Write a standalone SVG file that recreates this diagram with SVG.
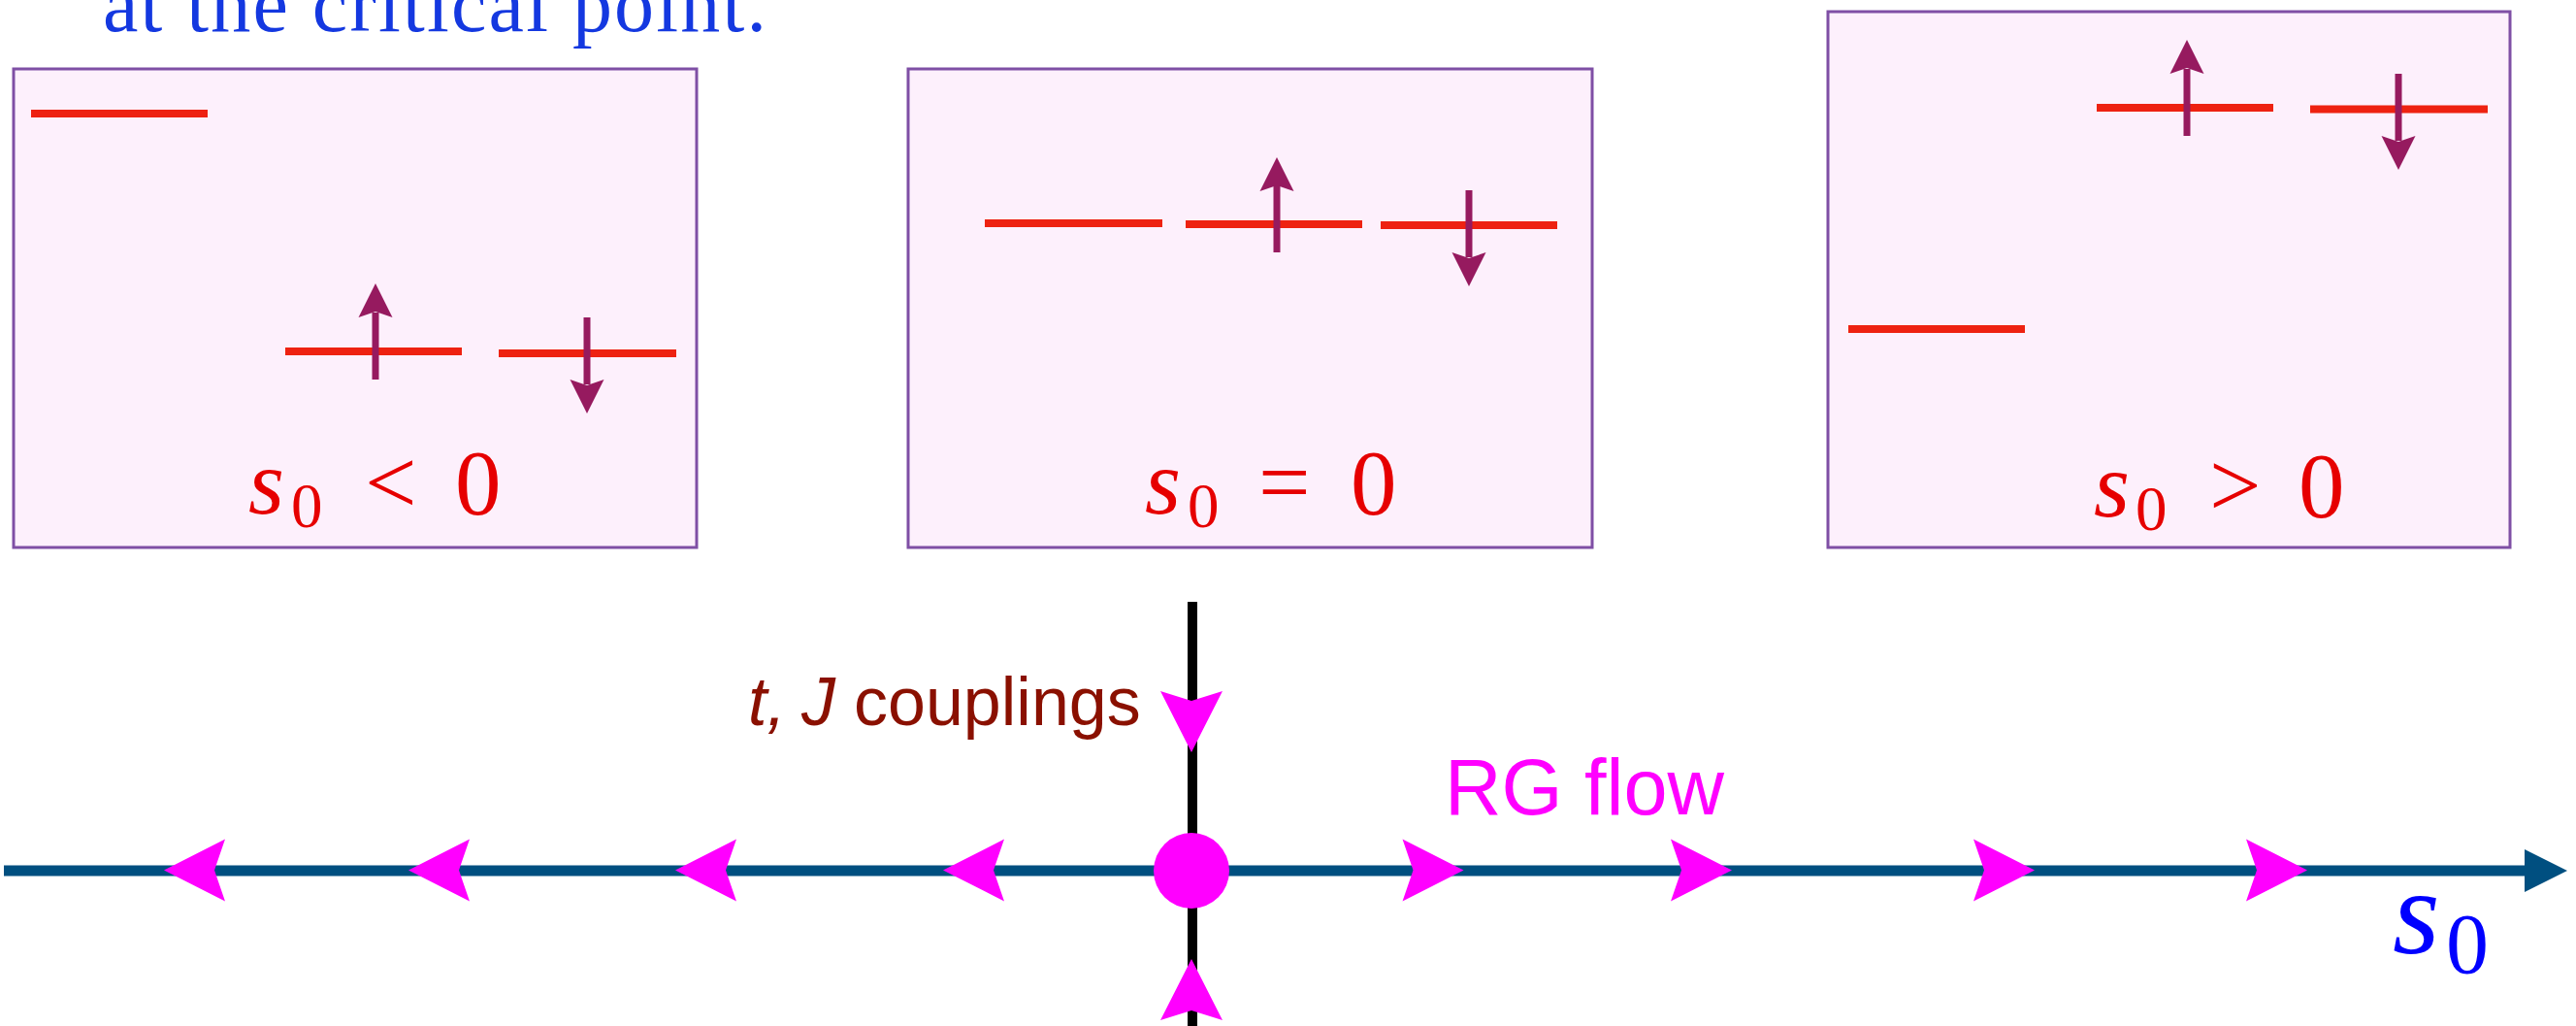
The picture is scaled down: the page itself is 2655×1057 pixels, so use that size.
<svg xmlns="http://www.w3.org/2000/svg" width="2655" height="1057" viewBox="0 0 2655 1057">
<style>
.box{fill:#fdf0fc;stroke:#7f4fa5;stroke-width:3}
.lvl{stroke:#ee2211;stroke-width:8;fill:none}
.spin{stroke:#961a5f;stroke-width:7;fill:none}
.spinhead{fill:#961a5f}
.flow{fill:#ff00ff}
.lbl{font-family:"Liberation Serif",serif;font-size:95px;fill:#e60000}
.sub{font-size:65px}
.it{font-style:italic}
</style>
<defs>
<polygon id="up" class="spinhead" points="0,0 17.5,35 0,29 -17.5,35"/>
<polygon id="down" class="spinhead" points="0,0 17.5,-35 0,-29 -17.5,-35"/>
<polygon id="fl" points="0,0 63,-32 52,0 63,32"/>
<polygon id="fr" points="0,0 -63,-32 -52,0 -63,32"/>
</defs>
<rect width="2655" height="1057" fill="#ffffff"/>
<text x="106" y="32" font-family="Liberation Serif,serif" font-size="82" fill="#1438e0" textLength="684" lengthAdjust="spacing">at the critical point.</text>

<g id="box-neg">
<rect class="box" x="14" y="71" width="704" height="493"/>
<line class="lvl" x1="32" y1="117" x2="214" y2="117"/>
<line class="lvl" x1="294" y1="362" x2="476" y2="362"/>
<line class="lvl" x1="514" y1="364" x2="697" y2="364"/>
<line class="spin" x1="387" y1="391" x2="387" y2="322"/>
<use href="#up" class="spinhead" x="387" y="292"/>
<line class="spin" x1="605" y1="327" x2="605" y2="396"/>
<use href="#down" class="spinhead" x="605" y="426"/>
<text class="lbl"><tspan class="it" x="256" y="529">s</tspan><tspan class="sub" x="300" y="543">0</tspan><tspan x="376" y="529">&lt;</tspan><tspan x="469" y="530">0</tspan></text>
</g>

<g id="box-zero">
<rect class="box" x="936" y="71" width="705" height="493"/>
<line class="lvl" x1="1015" y1="230" x2="1198" y2="230"/>
<line class="lvl" x1="1222" y1="231" x2="1404" y2="231"/>
<line class="lvl" x1="1423" y1="232" x2="1605" y2="232"/>
<line class="spin" x1="1316" y1="260" x2="1316" y2="191"/>
<use href="#up" x="1316" y="162"/>
<line class="spin" x1="1514" y1="196" x2="1514" y2="265"/>
<use href="#down" x="1514" y="295"/>
<text class="lbl"><tspan class="it" x="1180" y="529">s</tspan><tspan class="sub" x="1224" y="543">0</tspan><tspan x="1297" y="529">=</tspan><tspan x="1392" y="530">0</tspan></text>
</g>

<g id="box-pos">
<rect class="box" x="1884" y="12" width="703" height="552"/>
<line class="lvl" x1="2161" y1="111" x2="2343" y2="111"/>
<line class="lvl" x1="2381" y1="112.5" x2="2564" y2="112.5"/>
<line class="lvl" x1="1905" y1="339" x2="2087" y2="339"/>
<line class="spin" x1="2254" y1="140" x2="2254" y2="71"/>
<use href="#up" x="2254" y="41"/>
<line class="spin" x1="2472" y1="76" x2="2472" y2="145"/>
<use href="#down" x="2472" y="175"/>
<text class="lbl"><tspan class="it" x="2158" y="532">s</tspan><tspan class="sub" x="2201" y="546">0</tspan><tspan x="2277" y="532">&gt;</tspan><tspan x="2369" y="533">0</tspan></text>
</g>

<g id="connectors">
<line x1="4" y1="897" x2="2604" y2="897" stroke="#004f80" stroke-width="11"/>
<polygon points="2602,875 2646,897 2602,919" fill="#004f80"/>
<line x1="1229" y1="620" x2="1229" y2="1057" stroke="#000000" stroke-width="10"/>
<g class="flow">
<use href="#fl" x="169" y="896.5"/>
<use href="#fl" x="421" y="896.5"/>
<use href="#fl" x="696" y="896.5"/>
<use href="#fl" x="972" y="896.5"/>
<use href="#fr" x="1508.5" y="896.5"/>
<use href="#fr" x="1785" y="896.5"/>
<use href="#fr" x="2097" y="896.5"/>
<use href="#fr" x="2378" y="896.5"/>
<polygon points="1228,775 1260,712 1228,722 1196,712"/>
<polygon points="1228,988 1260,1051 1228,1041 1196,1051"/>
</g>
</g>

<g id="fixed-point">
<circle cx="1228" cy="897" r="39" fill="#ff00ff"/>
</g>

<g id="labels">
<text x="771" y="747" font-family="Liberation Sans,Arial,sans-serif" font-size="70" fill="#8a1000"><tspan font-style="italic">t,</tspan><tspan x="826" font-style="italic">J</tspan><tspan x="880">couplings</tspan></text>
<text x="1489" y="839" font-family="Liberation Sans,Arial,sans-serif" font-size="81" fill="#ff00ff">RG flow</text>
<text font-family="Liberation Serif,serif" fill="#0000ff"><tspan x="2466" y="982" font-size="125" font-style="italic">s</tspan><tspan x="2521" y="1002" font-size="88">0</tspan></text>
</g>
</svg>
